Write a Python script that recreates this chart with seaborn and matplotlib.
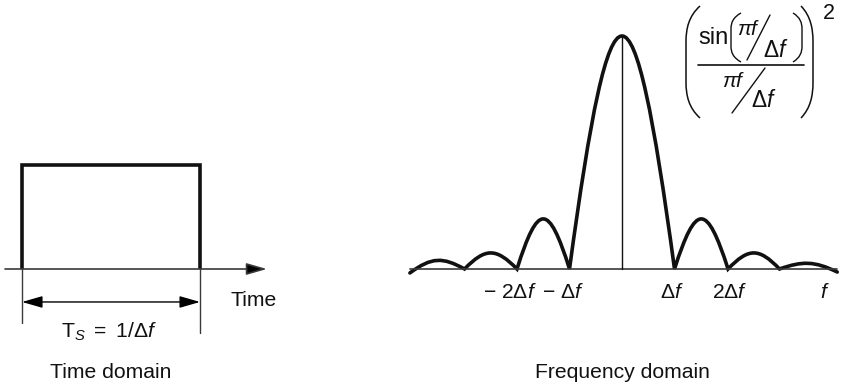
import matplotlib
matplotlib.use("Agg")
import matplotlib.pyplot as plt
import seaborn as sns
from matplotlib.path import Path
from matplotlib.patches import PathPatch

# Rectangular pulse (time domain), time in units of T_S
pulse_t = [0.0, 0.0, 1.0, 1.0]
pulse_amp = [0.0, 1.0, 1.0, 0.0]

# Spectrum lobes (frequency domain), frequency in units of Δf
lobe_edges = [-4.04, -3.0, -2.0, -1.0, 1.0, 2.02, 3.0, 4.1]
lobe_peaks = [0.039, 0.069, 0.215, 1.0, 0.215, 0.069, 0.026]
edge_levels = [-0.017, 0.0, 0.0, 0.0, 0.0, 0.0, 0.0, -0.013]

freq_tick_pos = [-2, -1, 1, 2]
freq_tick_labels = [r"$-\ 2\Delta f$", r"$-\ \Delta f$", r"$\Delta f$", r"$2\Delta f$"]

sns.set_theme(style="white")
plt.rcParams["font.family"] = ["Liberation Sans", "DejaVu Sans"]
plt.rcParams["mathtext.fontset"] = "custom"
plt.rcParams["mathtext.rm"] = "Liberation Sans"
plt.rcParams["mathtext.it"] = "Liberation Sans:italic"
plt.rcParams["mathtext.bf"] = "Liberation Sans:bold"

W, H = 857, 389
fig = plt.figure(figsize=(W / 100, H / 100), dpi=100)
fig.patch.set_facecolor("white")

FS = 15.2
INK = "#111111"
AXIS_GREY = "#3a3a3a"

# ---------------- Time domain ----------------
ax_t = fig.add_axes([4.2 / W, (H - 338.9) / H, 275.9 / W, 337.85 / H])
ax_t.set_xlim(-0.1, 1.45)
ax_t.set_ylim(-0.672, 2.576)
ax_t.axis("off")

# time axis with arrow
ax_t.annotate("", xy=(1.376, 0), xytext=(-0.0955, 0),
              arrowprops=dict(arrowstyle="-|>,head_length=1.25,head_width=0.36",
                              mutation_scale=10, lw=1.2, color=AXIS_GREY,
                              fc="black", ec=AXIS_GREY, shrinkA=0, shrinkB=0))
sns.lineplot(x=pulse_t, y=pulse_amp, sort=False, estimator=None, ax=ax_t,
             color=INK, lw=2.6, solid_joinstyle="miter", solid_capstyle="butt")

# extension lines and dimension arrow for the pulse width
ax_t.plot([0, 0], [0, -0.519], color=AXIS_GREY, lw=1)
ax_t.plot([1, 1], [0, -0.615], color=AXIS_GREY, lw=1)
ax_t.annotate("", xy=(1, -0.317), xytext=(0, -0.317),
              arrowprops=dict(arrowstyle="<|-|>,head_length=1.25,head_width=0.36",
                              mutation_scale=10, lw=1.0, color="black",
                              shrinkA=0, shrinkB=0))

# ---------------- Frequency domain ----------------
ax_f = fig.add_axes([391 / W, (H - 338.9) / H, 462 / W, 337.85 / H])
ax_f.set_xlim(-4.4, 4.4)
ax_f.set_ylim(-0.3, 1.15)
ax_f.axis("off")

sns.lineplot(x=[lobe_edges[0], lobe_edges[-1]], y=[0, 0], ax=ax_f,
             sort=False, estimator=None, color=AXIS_GREY, lw=1.2)
sns.lineplot(x=[0, 0], y=[0, lobe_peaks[3]], ax=ax_f,
             sort=False, estimator=None, color=INK, lw=1.0)

# each lobe drawn as a cubic Bezier arch between neighbouring zeros
K = 4.0 / 3.0
A = 0.40
verts, codes = [], []
for i, h in enumerate(lobe_peaks):
    x0, x1 = lobe_edges[i], lobe_edges[i + 1]
    y0, y1 = edge_levels[i], edge_levels[i + 1]
    w = x1 - x0
    if i == 0:
        verts.append((x0, y0))
        codes.append(Path.MOVETO)
    verts += [(x0 + A * w, K * h), (x1 - A * w, K * h), (x1, y1)]
    codes += [Path.CURVE4] * 3
ax_f.add_patch(PathPatch(Path(verts, codes), fill=False, lw=2.6, ec=INK,
                         joinstyle="miter", capstyle="round"))

label_dx = [-0.13, -0.13, -0.04, 0.05]
for pos, lab, dx in zip(freq_tick_pos, freq_tick_labels, label_dx):
    ax_f.text(pos + dx, -0.103, lab, ha="center", va="center", fontsize=FS, color=INK)
ax_f.text(3.87, -0.103, r"$f$", ha="center", va="center", fontsize=FS, color=INK)

# ---------------- Annotations in pixel space ----------------
ax_n = fig.add_axes([0, 0, 1, 1])
ax_n.set_xlim(0, W)
ax_n.set_ylim(H, 0)
ax_n.axis("off")
ax_n.patch.set_alpha(0)

ax_n.text(231, 300, "Time", ha="left", va="center", fontsize=FS, color=INK)
ax_n.text(109, 332, r"$\mathrm{T}_S\ =\ 1/\Delta f$", ha="center", va="center",
          fontsize=FS, color=INK)
ax_n.text(111, 372, "Time domain", ha="center", va="center", fontsize=FS, color=INK)
ax_n.text(622, 372, "Frequency domain", ha="center", va="center", fontsize=FS, color=INK)


def bracket(top, bulge_x, bottom, lw=1.1):
    (xt, yt), (xb, yb) = top, bottom
    span = yb - yt
    v = [(xt, yt),
         (bulge_x + (xt - bulge_x) * 0.2, yt + span * 0.09),
         (bulge_x, yt + span * 0.2), (bulge_x, yt + span * 0.32),
         (bulge_x, yb - span * 0.32),
         (bulge_x, yb - span * 0.2),
         (bulge_x + (xb - bulge_x) * 0.2, yb - span * 0.09), (xb, yb)]
    c = [Path.MOVETO, Path.CURVE4, Path.CURVE4, Path.CURVE4,
         Path.LINETO, Path.CURVE4, Path.CURVE4, Path.CURVE4]
    ax_n.add_patch(PathPatch(Path(v, c), fill=False, lw=lw, ec=INK))


# outer parentheses of the spectrum formula
bracket((700, 6), 686, (700, 118))
bracket((801, 6), 813, (801, 118))
# inner parentheses around the argument of sin
bracket((741, 13), 731, (741, 62), lw=1.0)
bracket((793, 13), 802, (793, 62), lw=1.0)

ax_n.text(698, 38, "sin", ha="left", va="center", fontsize=17, color=INK)
ax_n.text(749, 29, r"$\pi f$", ha="center", va="center", fontsize=15, color=INK)
ax_n.plot([747, 770], [60, 15], color=INK, lw=1.0)
ax_n.text(776, 50, r"$\Delta f$", ha="center", va="center", fontsize=16.5, color=INK)

ax_n.plot([698, 804], [65, 65], color=INK, lw=1.2)

ax_n.text(734, 81, r"$\pi f$", ha="center", va="center", fontsize=15, color=INK)
ax_n.plot([732, 765], [113, 68], color=INK, lw=1.0)
ax_n.text(764, 100, r"$\Delta f$", ha="center", va="center", fontsize=16.5, color=INK)

ax_n.text(829, 13, "2", ha="center", va="center", fontsize=15.5, color=INK)

fig.savefig("out.png", dpi=100, facecolor="white")
